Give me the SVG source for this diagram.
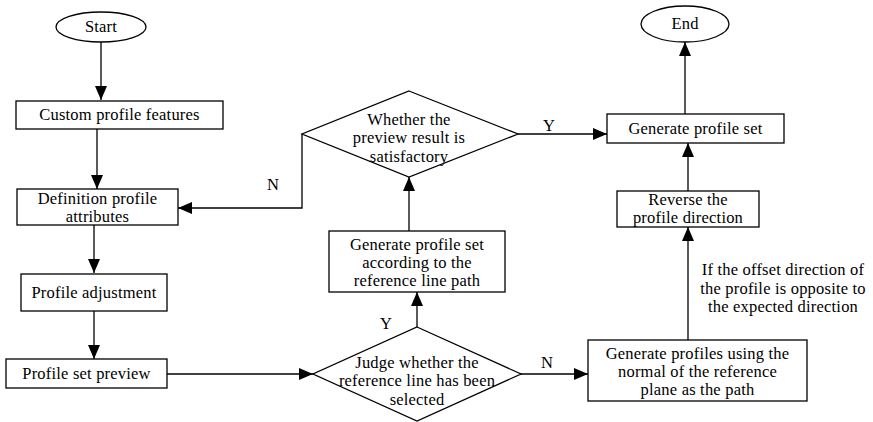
<svg xmlns="http://www.w3.org/2000/svg" width="873" height="422" viewBox="0 0 873 422">
<defs>
<style>
.n{fill:#fff;stroke:#000;stroke-width:1.3}
.t{font-family:'Liberation Serif','Times New Roman','DejaVu Serif',serif;font-size:16.5px;letter-spacing:0.2px;fill:#000;text-anchor:middle}
.c{fill:none;stroke:#000;stroke-width:1.3}
</style>
<marker id="a" markerUnits="userSpaceOnUse" markerWidth="14" markerHeight="12" refX="14" refY="6" orient="auto">
<path d="M0,0 L14,6 L0,12 Z" fill="#000"/>
</marker>
</defs>
<rect width="873" height="422" fill="#fff"/>
<g id="connectors">
<path class="c" d="M101,42 V100" marker-end="url(#a)"/>
<path class="c" d="M97,129 V189" marker-end="url(#a)"/>
<path class="c" d="M94,225 V273" marker-end="url(#a)"/>
<path class="c" d="M94,311 V359" marker-end="url(#a)"/>
<path class="c" d="M167,374 H313" marker-end="url(#a)"/>
<path class="c" d="M417,327 V292" marker-end="url(#a)"/>
<path class="c" d="M409,231 V177" marker-end="url(#a)"/>
<path class="c" d="M302,134 V208 H178" marker-end="url(#a)"/>
<path class="c" d="M518,134 H607" marker-end="url(#a)"/>
<path class="c" d="M685,114 V42" marker-end="url(#a)"/>
<path class="c" d="M688,191 V143" marker-end="url(#a)"/>
<path class="c" d="M688,340 V227" marker-end="url(#a)"/>
<path class="c" d="M520,374 H588" marker-end="url(#a)"/>
<text class="t" x="273" y="190">N</text>
<text class="t" x="549" y="131">Y</text>
<text class="t" x="386" y="329">Y</text>
<text class="t" x="547" y="368">N</text>
<text class="t" x="783" y="275">If the offset direction of</text>
<text class="t" x="783" y="294">the profile is opposite to</text>
<text class="t" x="783" y="312">the expected direction</text>
</g>
<g id="start">
<ellipse class="n" cx="101" cy="27" rx="45" ry="15"/>
<text class="t" x="101" y="32">Start</text>
</g>
<g id="custom">
<rect class="n" x="16" y="101" width="207" height="28"/>
<text class="t" x="119.5" y="120">Custom profile features</text>
</g>
<g id="definition">
<rect class="n" x="17" y="189" width="161" height="36"/>
<text class="t" x="97.5" y="204">Definition profile</text>
<text class="t" x="97.5" y="222">attributes</text>
</g>
<g id="adjustment">
<rect class="n" x="21" y="274" width="146" height="37"/>
<text class="t" x="94" y="298">Profile adjustment</text>
</g>
<g id="preview">
<rect class="n" x="6" y="359" width="161" height="29"/>
<text class="t" x="86.5" y="379">Profile set preview</text>
</g>
<g id="judge">
<polygon class="n" points="417,327 521,374 417,421 313,374"/>
<text class="t" x="417" y="368">Judge whether the</text>
<text class="t" x="417" y="386">reference line has been</text>
<text class="t" x="417" y="405">selected</text>
</g>
<g id="gen-ref">
<rect class="n" x="329" y="231" width="176" height="61"/>
<text class="t" x="417" y="250">Generate profile set</text>
<text class="t" x="417" y="268">according to the</text>
<text class="t" x="417" y="286">reference line path</text>
</g>
<g id="whether">
<polygon class="n" points="409,91 518,134 409,177 302,134"/>
<text class="t" x="409" y="125">Whether the</text>
<text class="t" x="409" y="143">preview result is</text>
<text class="t" x="409" y="162">satisfactory</text>
</g>
<g id="gen-set">
<rect class="n" x="607" y="114" width="177" height="29"/>
<text class="t" x="695.5" y="134">Generate profile set</text>
</g>
<g id="end">
<ellipse class="n" cx="685" cy="24" rx="44" ry="18"/>
<text class="t" x="685" y="29">End</text>
</g>
<g id="reverse">
<rect class="n" x="617" y="191" width="142" height="36"/>
<text class="t" x="688" y="205">Reverse the</text>
<text class="t" x="688" y="223">profile direction</text>
</g>
<g id="gen-normal">
<rect class="n" x="588" y="340" width="219" height="61"/>
<text class="t" x="697.5" y="359">Generate profiles using the</text>
<text class="t" x="697.5" y="377">normal of the reference</text>
<text class="t" x="697.5" y="395">plane as the path</text>
</g>
</svg>
